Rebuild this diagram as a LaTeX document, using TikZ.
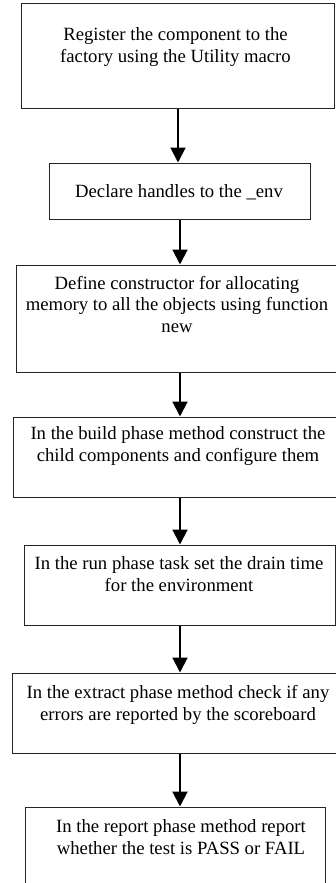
\documentclass[tikz,border=0pt]{standalone}
\usepackage{fontspec}
\setmainfont{Liberation Serif}
\usetikzlibrary{arrows.meta}
\newcommand{\topstrut}{\rule{0pt}{14pt}}
\begin{document}
\begin{tikzpicture}[x=1pt,y=-1pt,
  box/.style={draw=black!85, line width=1pt, inner sep=0pt},
  lbl/.style={inner sep=0pt, anchor=north, align=center, font=\fontsize{18.7}{21.7}\selectfont},
  flow/.style={line width=2pt, -{Triangle[width=15pt,length=15pt]}}]
\useasboundingbox (0,0) rectangle (336,883);
\clip (0,0) rectangle (336,883);
% boxes
\node[box, minimum width=313pt, minimum height=104pt] (b1) at (177.5,56) {};
\node[box, minimum width=261pt, minimum height=56pt] (b2) at (179.5,191) {};
\node[box, minimum width=324pt, minimum height=107pt] (b3) at (178,318.5) {};
\node[box, minimum width=330pt, minimum height=80pt] (b4) at (178,457) {};
\node[box, minimum width=311pt, minimum height=80pt] (b5) at (179.5,585) {};
\node[box, minimum width=332pt, minimum height=80pt] (b6) at (178,713) {};
\node[box, minimum width=300pt, minimum height=90pt] (b7) at (175,852) {};
% texts
\node[lbl] (t1) at (175.5,26.5) {\topstrut Register the component to the\\factory using the Utility macro};
\node[lbl] (t2) at (179,183.3) {\topstrut Declare handles to the \_env};
\node[lbl] (t3) at (177,275) {\topstrut Define constructor for allocating\\memory to all the objects using function\\new};
\node[lbl] (t4) at (178,425.7) {\topstrut In the build phase method construct the\\child components and configure them};
\node[lbl] (t5) at (179,555.7) {\topstrut In the run phase task set the drain time\\for the environment};
\node[lbl] (t6) at (178,684.4) {\topstrut In the extract phase method check if any\\errors are reported by the scoreboard};
\node[lbl] (t7) at (181,818.4) {\topstrut In the report phase method report\\whether the test is PASS or FAIL};
% connectors
\coordinate (ca) at (178,0);
\coordinate (cb) at (180,0);
\draw[flow] (b1.south -| ca) -- (b2.north -| ca);
\draw[flow] (b2.south -| cb) -- (b3.north -| cb);
\draw[flow] (b3.south -| cb) -- (b4.north -| cb);
\draw[flow] (b4.south -| cb) -- (b5.north -| cb);
\draw[flow] (b5.south -| cb) -- (b6.north -| cb);
\draw[flow] (b6.south -| cb) -- (b7.north -| cb);
\end{tikzpicture}
\end{document}
